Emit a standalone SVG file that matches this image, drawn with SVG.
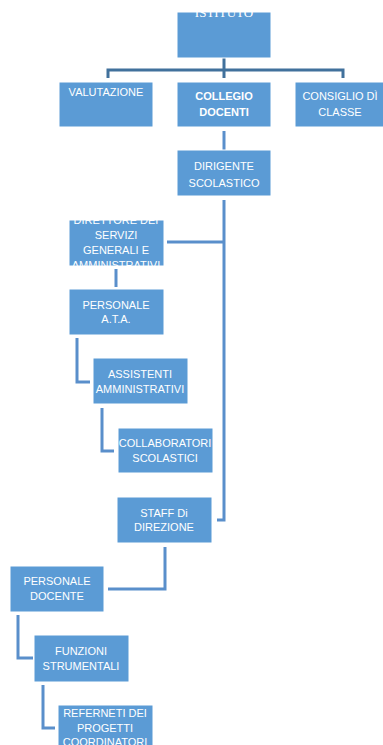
<svg xmlns="http://www.w3.org/2000/svg" width="383" height="745" viewBox="0 0 383 745">
<style>
.box{fill:#5B9BD5;stroke:#ffffff;stroke-width:1}
.t{font-family:"Liberation Sans",Arial,sans-serif;font-size:11px;fill:#ffffff;text-anchor:middle}
.b{font-weight:bold}
.ser{font-family:"Liberation Serif","Times New Roman",serif;font-size:13px;fill:#ffffff;text-anchor:middle}
.c1{fill:none;stroke:#41719C;stroke-width:3}
.c2{fill:none;stroke:#5A8FCB;stroke-width:3}
</style>
<rect width="383" height="745" fill="#ffffff"/>
<g id="connectors">
<path class="c1" d="M224 58 V78 M108 78 V70 H343 V78"/>
<path class="c2" d="M224 131 V150"/>
<path class="c2" d="M167 242 H224 M224 200 V520 H217"/>
<path class="c2" d="M116 269 V287"/>
<path class="c2" d="M77 338 V382 H90"/>
<path class="c2" d="M102 408 V451 H114"/>
<path class="c2" d="M165 547 V589 H108"/>
<path class="c2" d="M18 615 V658 H33"/>
<path class="c2" d="M43 685 V728 H55"/>
</g>
<g id="istituto"><rect class="box" x="177" y="12" width="94" height="46"/><text class="ser" x="224" y="17">ISTITUTO</text></g>
<g id="valutazione"><rect class="box" x="59" y="82" width="94" height="45"/><text class="t" x="106" y="96">VALUTAZIONE</text></g>
<g id="collegio"><rect class="box" x="177" y="82" width="94" height="45"/><text class="t b" x="224" y="100">COLLEGIO</text><text class="t b" x="224" y="116">DOCENTI</text></g>
<g id="consiglio"><rect class="box" x="295" y="82" width="94" height="45"/><text class="t" x="340" y="100">CONSIGLIO DÌ</text><text class="t" x="340" y="116">CLASSE</text></g>
<g id="dirigente"><rect class="box" x="177" y="150" width="94" height="46"/><text class="t" x="224" y="170">DIRIGENTE</text><text class="t" x="224" y="187">SCOLASTICO</text></g>
<g id="direttore"><rect class="box" x="69" y="220" width="95" height="46"/><text class="t" x="116" y="224">DIRETTORE DEI</text><text class="t" x="116" y="239">SERVIZI</text><text class="t" x="116" y="254">GENERALI E</text><text class="t" x="116" y="269">AMMINISTRATIVI</text></g>
<g id="ata"><rect class="box" x="69" y="289" width="95" height="46"/><text class="t" x="116" y="309">PERSONALE</text><text class="t" x="116" y="323">A.T.A.</text></g>
<g id="assistenti"><rect class="box" x="93" y="358" width="95" height="46"/><text class="t" x="140" y="378">ASSISTENTI</text><text class="t" x="140" y="393">AMMINISTRATIVI</text></g>
<g id="collaboratori"><rect class="box" x="118" y="428" width="95" height="45"/><text class="t" x="165" y="447">COLLABORATORI</text><text class="t" x="165" y="462">SCOLASTICI</text></g>
<g id="staff"><rect class="box" x="117" y="497" width="95" height="46"/><text class="t" x="164" y="517">STAFF Di</text><text class="t" x="164" y="531">DIREZIONE</text></g>
<g id="docente"><rect class="box" x="10" y="566" width="94" height="46"/><text class="t" x="57" y="585">PERSONALE</text><text class="t" x="57" y="600">DOCENTE</text></g>
<g id="funzioni"><rect class="box" x="34" y="635" width="95" height="47"/><text class="t" x="81" y="655">FUNZIONI</text><text class="t" x="81" y="670">STRUMENTALI</text></g>
<g id="referneti"><rect class="box" x="58" y="705" width="95" height="45"/><text class="t" x="105" y="717">REFERNETI DEI</text><text class="t" x="105" y="732">PROGETTI</text><text class="t" x="105" y="746">COORDINATORI</text></g>
</svg>
